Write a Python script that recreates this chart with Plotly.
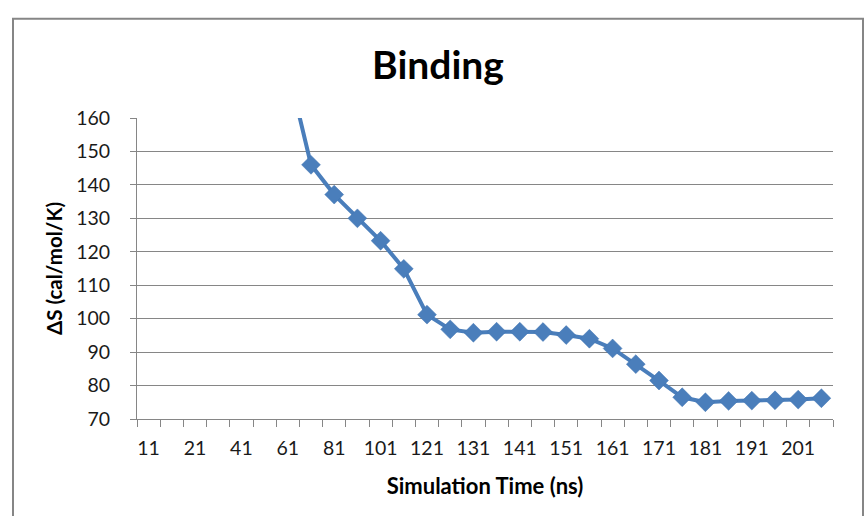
import plotly.graph_objects as go

# Category labels (simulation time, ns) and entropy values
categories = ["11", "16", "21", "31", "41", "51", "61", "71", "81", "91",
              "101", "111", "121", "126", "131", "136", "141", "146", "151", "156",
              "161", "166", "171", "176", "181", "186", "191", "196", "201", "206"]
shown_labels = ["11", "21", "41", "61", "81", "101", "121", "131", "141",
                "151", "161", "171", "181", "191", "201"]
delta_s = [None, None, None, None, None, None, 175, 146, 137.1, 130,
           123.3, 114.9, 101.2, 96.8, 95.8, 96.1, 96.1, 96.0, 95.1, 94.0,
           91.1, 86.4, 81.5, 76.5, 75.0, 75.4, 75.5, 75.6, 75.8, 76.2]

y_ticks = [70, 80, 90, 100, 110, 120, 130, 140, 150, 160]

tick_text = [c if c in shown_labels else "" for c in categories]

GRAY = "#868686"
BLUE = "#4A7EBB"
FONT = "Lato"

fig = go.Figure()
fig.add_trace(go.Scatter(
    x=categories, y=delta_s, mode="lines+markers",
    line=dict(color=BLUE, width=4),
    marker=dict(symbol="diamond", size=14.5, color=BLUE,
                line=dict(color="#3F73B0", width=0.5)),
    connectgaps=False, showlegend=False,
))

fig.update_layout(
    width=865, height=516,
    margin=dict(l=137, r=32, t=117.5, b=96.5),
    paper_bgcolor="white", plot_bgcolor="white",
    title=dict(text="<b>Binding</b>", x=438 / 865, xref="container", xanchor="center",
               y=0.874, yref="container", yanchor="middle",
               font=dict(family=FONT, size=39, color="#000000")),
    font=dict(family=FONT, color="#1a1a1a"),
    xaxis=dict(
        type="category", categoryorder="array", categoryarray=categories,
        range=[-0.5, len(categories) - 0.5],
        tickmode="array", tickvals=categories, ticktext=tick_text, tickangle=0,
        tickson="boundaries", ticks="outside", ticklen=7, tickcolor=GRAY, tickwidth=1,
        showline=True, linecolor=GRAY, linewidth=1, showgrid=False,
        tickfont=dict(family=FONT, size=19.5, color="#1a1a1a"),
        ticklabelstandoff=12,
        title=dict(text="<b>Simulation Time (ns)</b>", standoff=20,
                   font=dict(family=FONT, size=22, color="#000000")),
        zeroline=False,
    ),
    yaxis=dict(
        range=[70, 160], tickmode="array", tickvals=y_ticks,
        ticks="outside", ticklen=6, tickcolor=GRAY, tickwidth=1,
        showline=True, linecolor=GRAY, linewidth=1,
        showgrid=True, gridcolor=GRAY, gridwidth=1,
        tickfont=dict(family=FONT, size=19.5, color="#1a1a1a"),
        ticklabelstandoff=16,
        title=dict(text="<b>ΔS (cal/mol/K)</b>", standoff=7,
                   font=dict(family=FONT, size=20.5, color="#000000")),
        zeroline=False,
    ),
    shapes=[dict(type="rect", xref="paper", yref="paper",
                 x0=(13 - 137) / 696, x1=(863 - 137) / 696,
                 y0=(419.5 - 540) / 302, y1=(419.5 - 18) / 302,
                 line=dict(color=GRAY, width=2), fillcolor="rgba(0,0,0,0)",
                 layer="below")],
)

fig.write_html("out.html")
